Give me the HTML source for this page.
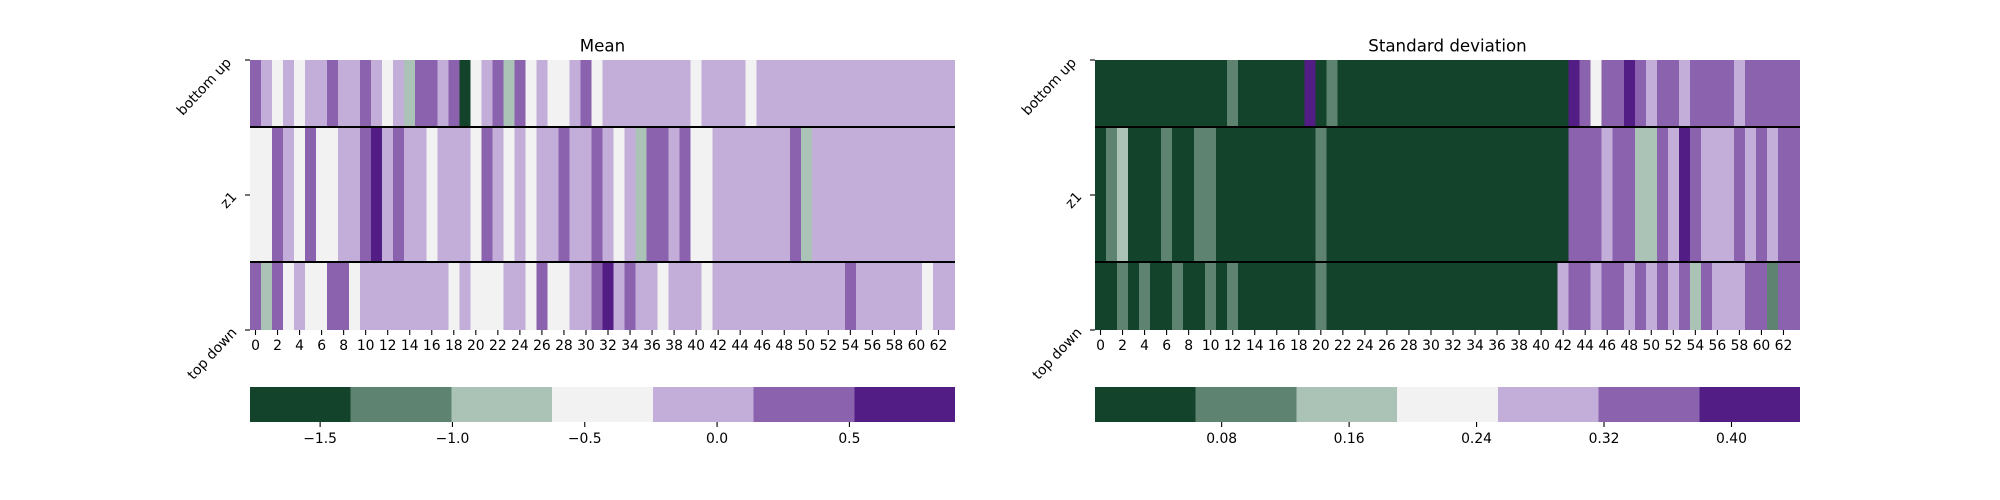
<!DOCTYPE html>
<html lang="en">
<head>
<meta charset="utf-8">
<title>Mean and standard deviation heatmaps</title>
<style>
html,body{margin:0;padding:0;background:#fff;width:2000px;height:500px;overflow:hidden}
svg{display:block}
text{font-family:"DejaVu Sans","Liberation Sans",sans-serif;fill:#000}
.tick-label{font-size:13.89px}
.title{font-size:16.67px}
</style>
</head>
<body>
<svg id="figure" width="2000" height="500" viewBox="0 0 2000 500" xmlns="http://www.w3.org/2000/svg">
  <rect width="2000" height="500" fill="#ffffff"/>
  <text class="title" x="602.5" y="51.5" text-anchor="middle">Mean</text>
  <text class="title" x="1447.5" y="51.5" text-anchor="middle">Standard deviation</text>
  <g id="panel-mean"></g>
  <g id="panel-std"></g>
</svg>
<script>
const palette = ['#14432B', '#5E8370', '#AAC3B6', '#F2F2F2', '#C3ADD9', '#8B62AE', '#521D85'];
const rowLabels = ['bottom up', 'z1', 'top down'];
const rowSpans = [1, 2, 1];
const rowTicks = [0, 2, 4];
const rowSeparators = [1, 3];
const columnTicks = [0,2,4,6,8,10,12,14,16,18,20,22,24,26,28,30,32,34,36,38,40,42,44,46,48,50,52,54,56,58,60,62];

const meanDomain = [-1.765, 0.899];
const stdDomain = [0.0005, 0.443];
const meanCbarTicks = [-1.5, -1.0, -0.5, 0.0, 0.5];
const meanCbarLabels = ['\u22121.5', '\u22121.0', '\u22120.5', '0.0', '0.5'];
const stdCbarTicks = [0.08, 0.16, 0.24, 0.32, 0.40];
const stdCbarLabels = ['0.08', '0.16', '0.24', '0.32', '0.40'];

const meanBottomUp = [
 .33,-.05,-.43,-.05,-.43,-.05,-.05,.33,-.05,-.05,
 .33,-.05,-.43,-.05,-.81,.33,.33,-.05,.33,-1.58,
 -.43,-.05,.33,-.81,.33,-.43,-.05,-.43,-.43,-.05,
 .33,-.43,-.05,-.05,-.05,-.05,-.05,-.05,-.05,-.05,
 -.43,-.05,-.05,-.05,-.05,-.43,-.05,-.05,-.05,-.05,
 -.05,-.05,-.05,-.05,-.05,-.05,-.05,-.05,-.05,-.05,
 -.05,-.05,-.05,-.05];
const meanZ1 = [
 -.43,-.43,.33,-.05,-.43,.33,-.43,-.43,-.05,-.05,
 .33,.71,-.05,.33,-.05,-.05,-.43,-.05,-.05,-.05,
 -.43,.33,-.05,-.43,-.05,-.43,-.05,-.05,.33,-.05,
 -.05,.33,-.05,-.43,-.05,-.81,.33,.33,-.05,.33,
 -.43,-.43,-.05,-.05,-.05,-.05,-.05,-.05,-.05,.33,
 -.81,-.05,-.05,-.05,-.05,-.05,-.05,-.05,-.05,-.05,
 -.05,-.05,-.05,-.05];
const meanTopDown = [
 .33,-.81,.33,-.43,-.05,-.43,-.43,.33,.33,-.43,
 -.05,-.05,-.05,-.05,-.05,-.05,-.05,-.05,-.43,-.05,
 -.43,-.43,-.43,-.05,-.05,-.43,.33,-.43,-.43,-.05,
 -.05,.33,.71,-.05,.33,-.05,-.05,-.43,-.05,-.05,
 -.05,-.43,-.05,-.05,-.05,-.05,-.05,-.05,-.05,-.05,
 -.05,-.05,-.05,-.05,.33,-.05,-.05,-.05,-.05,-.05,
 -.05,-.43,-.05,-.05];

const stdBottomUp = [
 .03,.03,.03,.03,.03,.03,.03,.03,.03,.03,
 .03,.03,.10,.03,.03,.03,.03,.03,.03,.41,
 .03,.10,.03,.03,.03,.03,.03,.03,.03,.03,
 .03,.03,.03,.03,.03,.03,.03,.03,.03,.03,
 .03,.03,.03,.41,.35,.22,.35,.35,.41,.35,
 .29,.35,.35,.29,.35,.35,.35,.35,.29,.35,
 .35,.35,.35,.35];
const stdZ1 = [
 .03,.10,.16,.03,.03,.03,.10,.03,.03,.10,
 .10,.03,.03,.03,.03,.03,.03,.03,.03,.03,
 .10,.03,.03,.03,.03,.03,.03,.03,.03,.03,
 .03,.03,.03,.03,.03,.03,.03,.03,.03,.03,
 .03,.03,.03,.35,.35,.35,.29,.35,.35,.16,
 .16,.35,.29,.41,.35,.29,.29,.29,.35,.29,
 .35,.29,.35,.35];
const stdTopDown = [
 .03,.03,.10,.03,.10,.03,.03,.10,.03,.03,
 .10,.03,.10,.03,.03,.03,.03,.03,.03,.03,
 .10,.03,.03,.03,.03,.03,.03,.03,.03,.03,
 .03,.03,.03,.03,.03,.03,.03,.03,.03,.03,
 .03,.03,.29,.35,.35,.29,.35,.35,.29,.35,
 .29,.35,.29,.35,.16,.35,.29,.29,.29,.35,
 .35,.10,.35,.35];

const SVG_NS = 'http://www.w3.org/2000/svg';
const plotTop = 60, plotBottom = 330, plotWidth = 705;
const cbarTop = 387, cbarBottom = 422;
const rowUnits = rowSpans.reduce((a, b) => a + b, 0);

function make(parent, tag, attrs) {
  const el = document.createElementNS(SVG_NS, tag);
  for (const k in attrs) el.setAttribute(k, attrs[k]);
  parent.appendChild(el);
  return el;
}
function yScale(unit) { return plotTop + unit * (plotBottom - plotTop) / rowUnits; }

function drawPanel(parent, left, slug, rows, domain, cbarTicks, cbarLabels, labelCenters) {
  const cols = rows[0].length;
  const xScale = i => left + i * plotWidth / cols;
  const cbarScale = v => left + (v - domain[0]) / (domain[1] - domain[0]) * plotWidth;
  const colorOf = v => {
    const bin = Math.floor((v - domain[0]) / (domain[1] - domain[0]) * palette.length);
    return palette[Math.max(0, Math.min(palette.length - 1, bin))];
  };

  // heat cells
  let unit = 0;
  rows.forEach((row, r) => {
    const y0 = Math.floor(yScale(unit)), y1 = Math.floor(yScale(unit + rowSpans[r]));
    row.forEach((v, c) => {
      const cell = make(parent, 'rect', {
        x: xScale(c), y: y0, width: xScale(c + 1) - xScale(c), height: y1 - y0,
        fill: colorOf(v), 'shape-rendering': 'crispEdges'
      });
      
      
    });
    unit += rowSpans[r];
  });

  // separators
  rowSeparators.forEach(u => {
    const sep = make(parent, 'rect', {
      x: left, y: Math.floor(yScale(u)) - 1, width: plotWidth, height: 2,
      fill: '#000', 'shape-rendering': 'crispEdges'
    });
    
    
  });

  // x ticks
  columnTicks.forEach(t => {
    const x = xScale(t + 0.5);
    const tick = make(parent, 'line', { x1: x, x2: x, y1: plotBottom, y2: plotBottom + 5, stroke: '#000', 'stroke-width': 1.1 });
    
    
    const label = make(parent, 'text', { x: x, y: plotBottom + 20, 'text-anchor': 'middle', class: 'tick-label' });
    
    
    label.textContent = String(t);
  });

  // y ticks and rotated labels
  rowTicks.forEach((u, i) => {
    const y = yScale(u);
    const tick = make(parent, 'line', { x1: left - 5, x2: left, y1: y, y2: y, stroke: '#000', 'stroke-width': 1.1 });
    
    
    const dx = labelCenters[i][0], dy = labelCenters[i][1];
    const label = make(parent, 'text', {
      x: 0, y: 0, 'text-anchor': 'middle', 'dominant-baseline': 'central', class: 'tick-label',
      transform: 'translate(' + (left + dx) + ',' + (y + dy) + ') rotate(-47)'
    });
    
    
    label.textContent = rowLabels[i];
  });

  // colorbar
  palette.forEach((color, i) => {
    const x0 = left + i * plotWidth / palette.length, x1 = left + (i + 1) * plotWidth / palette.length;
    const seg = make(parent, 'rect', { x: x0, y: cbarTop, width: x1 - x0, height: cbarBottom - cbarTop, fill: color, 'shape-rendering': 'crispEdges' });
    
    
  });
  cbarTicks.forEach((v, i) => {
    const x = cbarScale(v);
    const tick = make(parent, 'line', { x1: x, x2: x, y1: cbarBottom, y2: cbarBottom + 5, stroke: '#000', 'stroke-width': 1.1 });
    
    
    const label = make(parent, 'text', { x: x, y: cbarBottom + 21, 'text-anchor': 'middle', class: 'tick-label' });
    
    
    label.textContent = cbarLabels[i];
  });
}

const labelOffsets = [[-45.5, 27], [-21, 5.5], [-37.5, 24]];
drawPanel(document.getElementById('panel-mean'), 250, 'mean', [meanBottomUp, meanZ1, meanTopDown], meanDomain, meanCbarTicks, meanCbarLabels, labelOffsets);
drawPanel(document.getElementById('panel-std'), 1095, 'std', [stdBottomUp, stdZ1, stdTopDown], stdDomain, stdCbarTicks, stdCbarLabels, labelOffsets);
</script>
</body>
</html>
